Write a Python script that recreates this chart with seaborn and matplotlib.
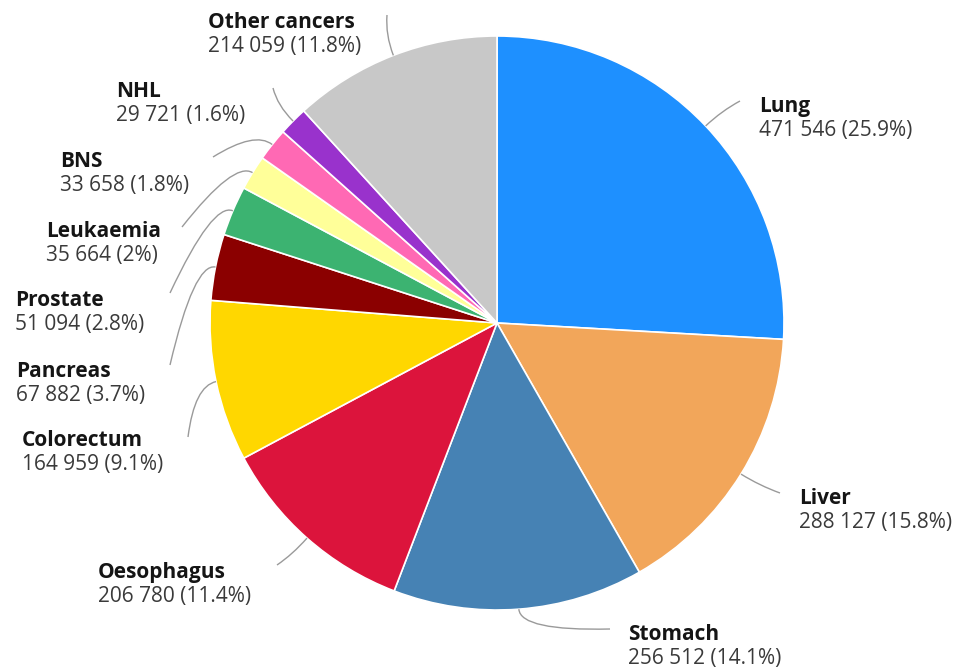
import numpy as np
import matplotlib
matplotlib.use("Agg")
import matplotlib.pyplot as plt
from matplotlib.path import Path
from matplotlib.patches import PathPatch
import seaborn as sns

# New cancer cases by site
sites = ["Lung", "Liver", "Stomach", "Oesophagus", "Colorectum", "Pancreas",
         "Prostate", "Leukaemia", "BNS", "NHL", "Other cancers"]
cases = [471546, 288127, 256512, 206780, 164959, 67882,
         51094, 35664, 33658, 29721, 214059]
shares = ["25.9%", "15.8%", "14.1%", "11.4%", "9.1%", "3.7%",
          "2.8%", "2%", "1.8%", "1.6%", "11.8%"]
site_colors = ["#1E90FF", "#F2A65A", "#4682B4", "#DC143C", "#FFD700", "#8B0000",
               "#3CB371", "#FFFF99", "#FF69B4", "#9932CC", "#C8C8C8"]

# Label layout in pixel units (origin top-left): text left edge, name baseline,
# and where the leader line ends.
label_pos = {
    "Lung":          (759, 112, (740, 101)),
    "Liver":         (799, 504, (780, 493)),
    "Stomach":       (628, 640, (610, 629)),
    "Oesophagus":    (98, 578, (277, 565)),
    "Colorectum":    (22, 446, (188, 437)),
    "Pancreas":      (16, 377, (170, 365)),
    "Prostate":      (15, 306, (170, 293)),
    "Leukaemia":     (46, 237, (182, 227)),
    "BNS":           (60, 167, (213, 157)),
    "NHL":           (116, 97, (273, 88)),
    "Other cancers": (208, 28, (387, 15)),
}

sns.set_theme(style="white")
plt.rcParams["font.family"] = ["Open Sans", "DejaVu Sans"]

W, H = 962, 668
fig = plt.figure(figsize=(W / 100, H / 100), dpi=100)
ax = fig.add_axes([0, 0, 1, 1])

cx, cy, R = 497, H - 323, 287
palette = sns.color_palette(site_colors)
wedges, _ = ax.pie(cases, colors=palette, startangle=90, counterclock=False,
                   center=(cx, cy), radius=R,
                   wedgeprops=dict(edgecolor="white", linewidth=1.2))

ax.set_xlim(0, W)
ax.set_ylim(0, H)
ax.set_aspect("equal")
ax.axis("off")


def fmt(n):
    return f"{n:,}".replace(",", " ")


for w, site, n, pct in zip(wedges, sites, cases, shares):
    tx, ty, (ex, ey) = label_pos[site]
    mid = np.deg2rad((w.theta1 + w.theta2) / 2)
    d = np.array([np.cos(mid), np.sin(mid)])
    p0 = np.array([cx, cy]) + R * d
    p1 = np.array([cx, cy]) + (R + 22) * d
    p2 = np.array([ex, H - ey])
    path = Path([p0, p1, p2], [Path.MOVETO, Path.CURVE3, Path.CURVE3])
    ax.add_patch(PathPatch(path, fill=False, edgecolor="#9a9a9a", lw=1.0))

    ax.text(tx, H - ty, site, fontsize=15, fontweight="bold", color="#151515",
            ha="left", va="baseline")
    ax.text(tx, H - ty - 24, f"{fmt(n)} ({pct})", fontsize=15, color="#3a3a3a",
            ha="left", va="baseline")

fig.savefig("out.png", dpi=100, facecolor="white")
